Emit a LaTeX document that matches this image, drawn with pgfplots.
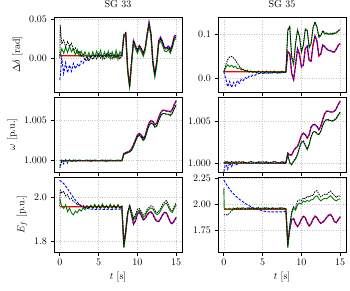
\documentclass[border=0pt]{standalone}
\usepackage{pgfplots}
\usepackage{pgfplotstable}
\pgfplotsset{compat=1.18}

\definecolor{gcol}{rgb}{0,0.5,0}

% columns: t, red, blue, green, black
\pgfplotstableread{
t r b g k
0 0.003 -0.028 0.002 0.000
0.05 0.003 -0.024 0.004 0.042
0.25 0.003 0.000 0.012 0.018
0.5 0.003 -0.020 0.006 0.023
0.75 0.003 -0.006 0.014 0.014
1.0 0.003 -0.019 0.007 0.021
1.25 0.003 -0.009 0.015 0.015
1.5 0.003 -0.017 0.008 0.019
1.75 0.003 -0.007 0.012 0.010
2.0 0.003 -0.014 0.004 0.013
2.25 0.003 -0.008 0.011 0.006
2.5 0.003 -0.011 0.003 0.009
2.75 0.003 -0.004 0.009 0.002
3.0 0.003 -0.007 0.002 0.005
3.25 0.003 -0.002 0.008 -0.003
3.5 0.003 -0.004 0.001 0.002
3.75 0.003 0.002 0.007 -0.004
4.0 0.003 0.001 0.000 0.003
4.25 0.003 0.004 0.008 -0.002
4.5 0.003 0.002 0.001 0.004
4.75 0.003 0.005 0.009 -0.001
5.0 0.003 0.002 0.002 0.005
5.25 0.003 0.004 0.010 0.000
5.5 0.003 0.001 -0.001 0.004
5.75 0.003 0.004 0.008 -0.002
6.0 0.003 0.002 0.001 0.005
6.25 0.003 0.005 0.009 0.001
6.5 0.003 0.002 -0.001 0.006
6.75 0.003 0.004 0.008 -0.001
7.0 0.003 0.002 0.000 0.004
7.25 0.003 0.005 0.010 0.000
7.5 0.003 0.003 -0.002 0.005
7.75 0.003 0.004 0.008 -0.001
8.0 0.003 0.003 0.003 0.003
8.25 0.028 0.027 0.030 0.029
8.5 0.031 0.032 0.028 0.033
8.75 -0.015 -0.014 -0.018 -0.016
9.0 -0.036 -0.035 -0.038 -0.037
9.25 -0.005 -0.006 -0.008 -0.004
9.5 0.022 0.023 0.019 0.022
9.75 0.015 0.014 0.012 0.017
10.0 0.010 0.011 0.006 0.009
10.25 0.015 0.016 0.013 0.016
10.5 0.012 0.011 0.008 0.013
10.75 0.006 0.007 0.002 0.005
11.0 0.012 0.012 0.009 0.013
11.25 0.030 0.031 0.027 0.029
11.5 0.045 0.046 0.042 0.044
11.75 0.030 0.031 0.027 0.032
12.0 -0.005 -0.004 -0.009 -0.006
12.25 -0.021 -0.020 -0.025 -0.022
12.5 -0.005 -0.006 -0.009 -0.004
12.75 0.022 0.023 0.018 0.020
13.0 0.026 0.027 0.022 0.025
13.25 0.020 0.021 0.016 0.019
13.5 0.013 0.014 0.009 0.012
13.75 0.013 0.012 0.008 0.011
14.0 0.015 0.016 0.011 0.013
14.25 0.010 0.011 0.006 0.009
14.5 0.017 0.017 0.013 0.015
14.75 0.028 0.027 0.023 0.025
15.0 0.029 0.030 0.025 0.027
}\tabA

\pgfplotstableread{
t r b g k
0 0.014 0.014 0.014 0.014
0.25 0.014 -0.002 0.024 0.030
0.5 0.014 -0.020 0.030 0.042
0.75 0.014 -0.008 0.026 0.048
1.0 0.014 -0.022 0.029 0.049
1.25 0.014 -0.010 0.024 0.046
1.5 0.014 -0.018 0.027 0.040
1.75 0.014 -0.006 0.021 0.033
2.0 0.014 -0.012 0.023 0.027
2.25 0.014 -0.003 0.018 0.022
2.5 0.014 -0.006 0.020 0.019
2.75 0.014 0.001 0.015 0.017
3.0 0.014 -0.002 0.018 0.016
3.25 0.014 0.004 0.013 0.014
3.5 0.014 0.003 0.016 0.016
3.75 0.014 0.007 0.012 0.013
4.0 0.014 0.006 0.015 0.015
4.25 0.014 0.009 0.011 0.012
4.5 0.014 0.010 0.016 0.015
4.75 0.014 0.011 0.012 0.012
5.0 0.014 0.010 0.015 0.015
5.25 0.014 0.012 0.011 0.012
5.5 0.014 0.011 0.016 0.015
5.75 0.014 0.012 0.012 0.011
6.0 0.014 0.011 0.015 0.014
6.25 0.014 0.013 0.011 0.012
6.5 0.014 0.012 0.016 0.015
6.75 0.014 0.012 0.012 0.011
7.0 0.014 0.011 0.015 0.014
7.25 0.014 0.013 0.011 0.012
7.5 0.014 0.012 0.016 0.015
7.75 0.014 0.012 0.012 0.012
8.0 0.014 0.013 0.014 0.014
8.25 0.060 0.058 0.110 0.108
8.5 0.055 0.057 0.118 0.116
8.75 0.010 0.012 0.045 0.050
9.0 -0.004 -0.003 0.030 0.035
9.25 0.030 0.028 0.078 0.080
9.5 0.066 0.067 0.110 0.108
9.75 0.055 0.053 0.094 0.096
10.0 0.025 0.027 0.058 0.062
10.25 0.030 0.029 0.074 0.076
10.5 0.068 0.066 0.110 0.112
10.75 0.072 0.073 0.108 0.110
11.0 0.040 0.039 0.068 0.072
11.25 0.038 0.040 0.078 0.080
11.5 0.075 0.074 0.114 0.115
11.75 0.096 0.097 0.126 0.128
12.0 0.085 0.083 0.116 0.118
12.25 0.050 0.052 0.092 0.095
12.5 0.055 0.054 0.096 0.098
12.75 0.075 0.076 0.106 0.108
13.0 0.072 0.071 0.100 0.103
13.25 0.066 0.067 0.103 0.100
13.5 0.063 0.062 0.099 0.101
13.75 0.062 0.063 0.102 0.100
14.0 0.060 0.059 0.099 0.102
14.25 0.059 0.060 0.103 0.101
14.5 0.066 0.065 0.102 0.104
14.75 0.074 0.075 0.107 0.108
15.0 0.079 0.078 0.110 0.112
}\tabB

\pgfplotstableread{
t r b g k
0 1.0000 0.9993 1.0000 0.9991
0.25 1.0000 1.0000 1.0001 0.9999
0.5 1.0000 0.9996 0.9999 1.0000
0.75 1.0000 1.0001 1.0001 1.0000
1.0 1.0000 0.9997 1.0000 1.0000
1.25 1.0000 1.0001 1.0001 1.0000
1.5 1.0000 0.9999 0.9999 1.0000
1.75 1.0000 1.0000 1.0001 1.0000
2.0 1.0000 1.0000 0.9999 1.0001
2.5 1.0000 1.0000 1.0001 1.0000
3.0 1.0000 1.0000 1.0000 1.0000
3.5 1.0000 1.0000 1.0001 1.0000
4.0 1.0000 1.0000 0.9999 1.0001
4.5 1.0000 1.0000 1.0001 1.0000
5.0 1.0000 1.0000 1.0000 1.0000
5.5 1.0000 1.0000 1.0001 1.0000
6.0 1.0000 1.0000 0.9999 1.0001
6.5 1.0000 1.0000 1.0001 1.0000
7.0 1.0000 1.0000 1.0000 1.0000
7.5 1.0000 1.0000 1.0001 1.0000
8.0 1.0000 1.0000 1.0000 1.0000
8.25 1.0009 1.0009 1.0008 1.0008
8.5 1.0010 1.0010 1.0009 1.0009
8.75 1.0011 1.0011 1.0010 1.0010
9.0 1.0012 1.0012 1.0011 1.0011
9.25 1.0015 1.0015 1.0013 1.0013
9.5 1.0020 1.0020 1.0018 1.0018
9.75 1.0026 1.0026 1.0024 1.0024
10.0 1.0032 1.0032 1.0030 1.0030
10.25 1.0034 1.0034 1.0032 1.0032
10.5 1.0032 1.0032 1.0029 1.0030
10.75 1.0028 1.0028 1.0025 1.0026
11.0 1.0031 1.0031 1.0028 1.0029
11.25 1.0040 1.0040 1.0037 1.0037
11.5 1.0047 1.0047 1.0044 1.0044
11.75 1.0050 1.0050 1.0047 1.0047
12.0 1.0049 1.0049 1.0046 1.0046
12.25 1.0045 1.0045 1.0042 1.0042
12.5 1.0047 1.0047 1.0043 1.0044
12.75 1.0054 1.0054 1.0050 1.0051
13.0 1.0060 1.0060 1.0056 1.0056
13.25 1.0063 1.0063 1.0059 1.0059
13.5 1.0063 1.0063 1.0059 1.0059
13.75 1.0062 1.0062 1.0058 1.0058
14.0 1.0062 1.0062 1.0058 1.0058
14.25 1.0061 1.0061 1.0056 1.0057
14.5 1.0064 1.0064 1.0059 1.0060
14.75 1.0070 1.0070 1.0065 1.0065
15.0 1.0075 1.0075 1.0069 1.0070
}\tabC

\pgfplotstableread{
t r b g k
0 1.0000 0.9990 1.0001 1.0001
0.25 1.0000 1.0001 1.0000 1.0002
0.5 1.0000 0.9993 1.0002 1.0001
0.75 1.0000 1.0001 1.0000 1.0001
1.0 1.0000 0.9996 1.0002 1.0002
1.25 1.0000 1.0001 1.0000 1.0001
1.5 1.0000 0.9998 1.0002 1.0001
2.0 1.0000 1.0000 1.0000 1.0002
2.5 1.0000 1.0001 1.0002 1.0001
3.0 1.0000 1.0000 1.0000 1.0001
3.5 1.0000 1.0000 1.0002 1.0002
4.0 1.0000 1.0000 1.0000 1.0001
4.5 1.0000 1.0000 1.0002 1.0001
5.0 1.0000 1.0000 1.0000 1.0002
5.5 1.0000 1.0000 1.0002 1.0001
6.0 1.0000 1.0000 1.0000 1.0001
6.5 1.0000 1.0000 1.0002 1.0002
7.0 1.0000 1.0000 1.0000 1.0001
7.5 1.0000 1.0000 1.0002 1.0001
8.0 1.0000 1.0000 1.0001 1.0001
8.25 1.0012 1.0012 1.0010 1.0011
8.5 1.0010 1.0010 1.0000 1.0001
8.75 1.0010 1.0010 0.9998 0.9999
9.0 1.0015 1.0015 1.0002 1.0003
9.25 1.0018 1.0018 1.0005 1.0006
9.5 1.0020 1.0020 1.0010 1.0011
9.75 1.0026 1.0026 1.0018 1.0019
10.0 1.0033 1.0033 1.0025 1.0025
10.25 1.0036 1.0036 1.0026 1.0027
10.5 1.0034 1.0034 1.0021 1.0022
10.75 1.0030 1.0030 1.0016 1.0017
11.0 1.0034 1.0034 1.0022 1.0023
11.25 1.0043 1.0043 1.0031 1.0032
11.5 1.0046 1.0046 1.0037 1.0037
11.75 1.0046 1.0046 1.0038 1.0038
12.0 1.0044 1.0044 1.0035 1.0036
12.25 1.0040 1.0040 1.0034 1.0034
12.5 1.0044 1.0044 1.0038 1.0038
12.75 1.0052 1.0052 1.0045 1.0045
13.0 1.0059 1.0059 1.0050 1.0051
13.25 1.0062 1.0062 1.0052 1.0052
13.5 1.0062 1.0062 1.0051 1.0052
13.75 1.0061 1.0061 1.0051 1.0051
14.0 1.0061 1.0061 1.0050 1.0051
14.25 1.0062 1.0062 1.0051 1.0052
14.5 1.0065 1.0065 1.0053 1.0054
14.75 1.0070 1.0070 1.0057 1.0058
15.0 1.0074 1.0074 1.0061 1.0061
}\tabD

\pgfplotstableread{
t r b g k
0 1.958 2.078 1.993 1.960
0.05 1.958 2.075 1.985 2.032
0.25 1.958 2.070 1.960 2.020
0.5 1.958 2.062 1.950 2.026
0.75 1.958 2.050 1.966 2.006
1.0 1.958 2.038 1.935 2.012
1.25 1.958 2.025 1.952 1.992
1.5 1.958 2.012 1.930 1.996
1.75 1.958 2.000 1.921 1.980
2.0 1.958 1.988 1.938 1.978
2.25 1.958 1.978 1.930 1.966
2.5 1.958 1.968 1.946 1.970
2.75 1.958 1.962 1.938 1.958
3.0 1.958 1.956 1.952 1.964
3.25 1.958 1.952 1.944 1.953
3.5 1.958 1.950 1.960 1.962
3.75 1.958 1.948 1.950 1.952
4.0 1.958 1.946 1.965 1.962
4.25 1.958 1.947 1.952 1.951
4.5 1.958 1.945 1.968 1.963
4.75 1.958 1.946 1.950 1.953
5.0 1.958 1.945 1.966 1.962
5.25 1.958 1.947 1.953 1.950
5.5 1.958 1.945 1.970 1.964
5.75 1.958 1.946 1.951 1.953
6.0 1.958 1.945 1.964 1.961
6.25 1.958 1.947 1.950 1.951
6.5 1.958 1.945 1.969 1.963
6.75 1.958 1.946 1.952 1.952
7.0 1.958 1.946 1.966 1.962
7.25 1.958 1.947 1.950 1.951
7.5 1.958 1.946 1.968 1.963
7.75 1.958 1.947 1.952 1.952
8.0 1.958 1.950 1.960 1.960
8.25 1.790 1.792 1.772 1.776
8.5 1.850 1.848 1.835 1.842
8.75 1.930 1.928 1.925 1.932
9.0 1.960 1.958 1.958 1.966
9.25 1.920 1.922 1.930 1.937
9.5 1.880 1.878 1.898 1.906
9.75 1.895 1.893 1.912 1.922
10.0 1.925 1.923 1.936 1.946
10.25 1.935 1.933 1.942 1.950
10.5 1.918 1.916 1.928 1.936
10.75 1.900 1.898 1.910 1.920
11.0 1.905 1.903 1.918 1.926
11.25 1.920 1.918 1.936 1.946
11.5 1.932 1.930 1.946 1.955
11.75 1.935 1.933 1.952 1.962
12.0 1.925 1.923 1.948 1.958
12.25 1.905 1.903 1.932 1.941
12.5 1.893 1.891 1.922 1.930
12.75 1.892 1.890 1.926 1.937
13.0 1.905 1.903 1.940 1.950
13.25 1.922 1.920 1.958 1.968
13.5 1.933 1.931 1.970 1.980
13.75 1.930 1.928 1.974 1.986
14.0 1.910 1.908 1.956 1.966
14.25 1.888 1.886 1.938 1.946
14.5 1.882 1.880 1.932 1.940
14.75 1.895 1.893 1.950 1.960
15.0 1.910 1.908 1.965 1.975
}\tabE

\pgfplotstableread{
t r b g k
0 1.950 2.230 2.150 1.895
0.05 1.950 2.225 1.960 1.895
0.25 1.950 2.200 1.955 1.900
0.5 1.950 2.170 1.948 1.893
0.75 1.950 2.142 1.960 1.915
1.0 1.950 2.118 1.945 1.935
1.25 1.950 2.098 1.962 1.950
1.5 1.950 2.078 1.950 1.958
1.75 1.950 2.062 1.965 1.950
2.0 1.950 2.046 1.948 1.962
2.25 1.950 2.032 1.963 1.952
2.5 1.950 2.020 1.946 1.964
2.75 1.950 2.006 1.960 1.953
3.0 1.950 1.995 1.945 1.963
3.25 1.950 1.985 1.966 1.952
3.5 1.950 1.974 1.950 1.965
3.75 1.950 1.965 1.962 1.954
4.0 1.950 1.957 1.944 1.962
4.25 1.950 1.952 1.964 1.953
4.5 1.950 1.946 1.950 1.966
4.75 1.950 1.940 1.961 1.954
5.0 1.950 1.934 1.946 1.962
5.25 1.950 1.930 1.967 1.952
5.5 1.950 1.927 1.949 1.964
5.75 1.950 1.925 1.962 1.953
6.0 1.950 1.924 1.947 1.963
6.25 1.950 1.924 1.965 1.952
6.5 1.950 1.923 1.950 1.965
6.75 1.950 1.924 1.960 1.954
7.0 1.950 1.924 1.946 1.962
7.25 1.950 1.925 1.966 1.953
7.5 1.950 1.925 1.948 1.964
7.75 1.950 1.926 1.961 1.955
8.0 1.950 1.928 1.955 1.958
8.25 1.620 1.622 1.575 1.590
8.5 1.760 1.758 1.780 1.800
8.75 1.850 1.852 1.910 1.930
9.0 1.860 1.858 1.960 1.975
9.25 1.810 1.812 1.940 1.960
9.5 1.785 1.783 1.990 2.030
9.75 1.810 1.812 2.010 2.040
10.0 1.855 1.853 2.000 2.030
10.25 1.880 1.882 2.030 2.060
10.5 1.870 1.868 2.020 2.050
10.75 1.820 1.822 2.035 2.075
11.0 1.790 1.788 2.025 2.065
11.25 1.810 1.812 2.040 2.085
11.5 1.855 1.853 2.045 2.080
11.75 1.882 1.884 2.070 2.120
12.0 1.870 1.868 2.080 2.130
12.25 1.835 1.837 2.050 2.095
12.5 1.815 1.813 2.030 2.070
12.75 1.825 1.827 2.045 2.085
13.0 1.845 1.843 2.055 2.095
13.25 1.870 1.872 2.050 2.090
13.5 1.892 1.890 2.065 2.110
13.75 1.900 1.902 2.080 2.125
14.0 1.875 1.873 2.060 2.100
14.25 1.830 1.832 2.040 2.085
14.5 1.822 1.820 2.030 2.065
14.75 1.850 1.852 2.045 2.080
15.0 1.878 1.876 2.050 2.075
}\tabF

\pgfplotsset{
  sg/.style={
    scale only axis, width=128pt, height=75pt,
    xmin=-0.75, xmax=15.75, xtick={0,5,10,15},
    xtick pos=left, ytick pos=left, tick align=outside,
    major tick length=3.5pt,
    every tick/.style={black, line width=0.7pt},
    axis line style={line width=0.8pt},
    grid=major,
    major grid style={gray!45, dotted, line width=0.5pt},
    scaled ticks=false,
    no markers, anchor=north west,
  },
  tr/.style={red, line width=1.3pt},
  tb/.style={blue, line width=0.9pt, dash pattern=on 2.5pt off 1.5pt},
  tg/.style={gcol, line width=0.9pt},
  tk/.style={black, line width=0.8pt, dash pattern=on 1.5pt off 1pt},
  prec/.style={yticklabel style={/pgf/number format/.cd, fixed, fixed zerofill, precision=#1}},
}

\newcommand{\fourplots}[1]{%
  \addplot[tr] table[x=t, y=r] {#1};
  \addplot[tb] table[x=t, y=b] {#1};
  \addplot[tg] table[x=t, y=g] {#1};
  \addplot[tk] table[x=t, y=k] {#1};
}

\begin{document}
\begin{tikzpicture}
\path[use as bounding box] (0,0) rectangle (350pt,-290pt);

% row 1
\begin{axis}[sg, at={(54pt,-17pt)}, title={SG 33}, xticklabels={},
  ymin=-0.0436, ymax=0.0526, ytick={0,0.05}, prec=2,
  ylabel={$\Delta\delta$ [rad]}]
\fourplots{\tabA}
\end{axis}
\begin{axis}[sg, at={(218pt,-17pt)}, title={SG 35}, xticklabels={},
  ymin=-0.032, ymax=0.139, ytick={0,0.1}, prec=1]
\fourplots{\tabB}
\end{axis}

% row 2
\begin{axis}[sg, at={(54pt,-97pt)}, xticklabels={},
  ymin=0.99859, ymax=1.00796, ytick={1,1.005}, prec=3,
  ylabel={$\omega$ [p.u.]}]
\fourplots{\tabC}
\end{axis}
\begin{axis}[sg, at={(218pt,-97pt)}, xticklabels={},
  ymin=0.99896, ymax=1.00789, ytick={1,1.005}, prec=3]
\fourplots{\tabD}
\end{axis}

% row 3
\begin{axis}[sg, at={(54pt,-177pt)},
  ymin=1.7538, ymax=2.0915, ytick={1.8,2.0}, prec=1,
  ylabel={$E_f$ [p.u.]}, xlabel={$t$ [s]}]
\fourplots{\tabE}
\end{axis}
\begin{axis}[sg, at={(218pt,-177pt)},
  ymin=1.538, ymax=2.26, ytick={1.75,2.0,2.25}, prec=2,
  xlabel={$t$ [s]}]
\fourplots{\tabF}
\end{axis}
\end{tikzpicture}
\end{document}
